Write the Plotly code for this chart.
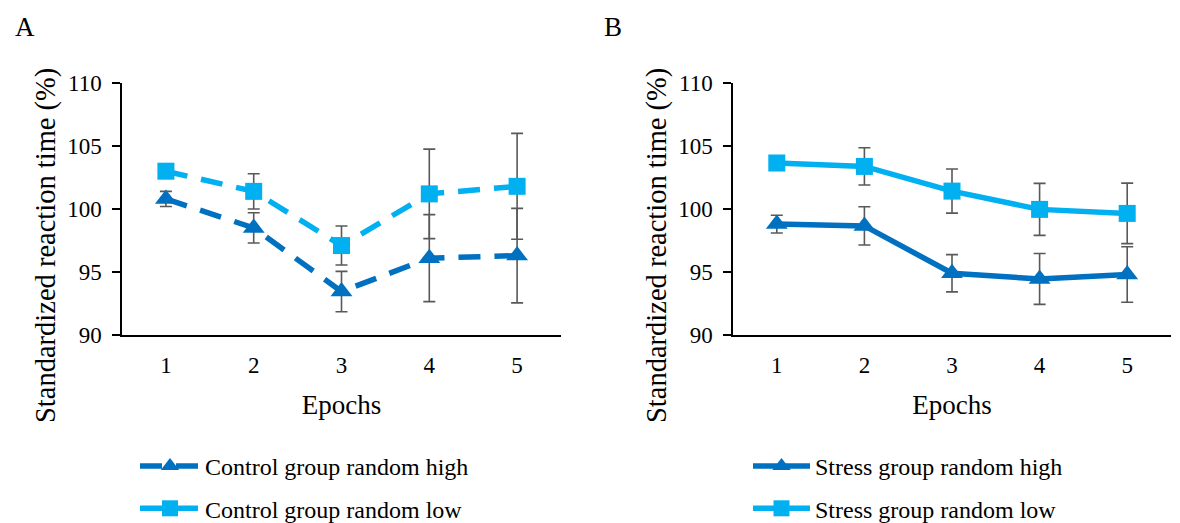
import plotly.graph_objects as go

epochs = [1, 2, 3, 4, 5]
epoch_labels = ["1", "2", "3", "4", "5"]

control_high = [100.8, 98.5, 93.45, 96.1, 96.3]
control_high_err = [0.6, 1.2, 1.6, 3.45, 3.75]
control_low = [103.0, 101.4, 97.1, 101.2, 101.8]
control_low_err = [0.3, 1.4, 1.55, 3.55, 4.2]

stress_high = [98.8, 98.66, 94.9, 94.45, 94.8]
stress_high_err = [0.7, 1.52, 1.48, 2.02, 2.2]
stress_low = [103.65, 103.38, 101.42, 99.97, 99.65]
stress_low_err = [0.3, 1.48, 1.75, 2.06, 2.4]

y_ticks = [90, 95, 100, 105, 110]
y_title = "Standardized reaction time (%)"
x_title = "Epochs"

DARK = "#0070C0"
LIGHT = "#00B0F0"
ERR = "#595959"
FONT = "Liberation Serif"

W, H = 1180, 523


def px(x):
    return x / W


def py(y):
    return 1 - y / H


fig = go.Figure()


def add(x, y, err, name, color, symbol, dash, xa, ya, legend, group):
    fig.add_trace(go.Scatter(
        x=x, y=y, name=name, mode="lines+markers",
        line=dict(color=color, width=5.5, dash=dash),
        marker=dict(symbol=symbol, size=17 if symbol == "square" else 19, color=color,
                    line=dict(width=0)),
        error_y=dict(type="data", array=err, visible=True, color=ERR, thickness=1.6, width=6),
        xaxis=xa, yaxis=ya, legend=legend, legendgroup=group,
    ))


add(epochs, control_high, control_high_err, "Control group random high", DARK, "triangle-up", "22px,14px", "x", "y", "legend", "a1")
add(epochs, control_low, control_low_err, "Control group random low", LIGHT, "square", "22px,14px", "x", "y", "legend", "a2")
add(epochs, stress_high, stress_high_err, "Stress group random high", DARK, "triangle-up", "solid", "x2", "y2", "legend2", "b1")
add(epochs, stress_low, stress_low_err, "Stress group random low", LIGHT, "square", "solid", "x2", "y2", "legend2", "b2")

xdomA = [px(122), px(561)]
xdomB = [px(733), px(1171)]
ydom = [py(335), py(83)]

xcommon = dict(
    range=[0.5, 5.5], tickvals=epochs, ticktext=epoch_labels, showgrid=False, zeroline=False,
    showline=True, linecolor="black", linewidth=1.5, ticks="", automargin=False,
    ticklabelstandoff=9,
    tickfont=dict(family=FONT, size=23, color="black"),
    title=dict(text=x_title, font=dict(family=FONT, size=27, color="black"), standoff=18),
)
ycommon = dict(
    range=[90, 110], tickvals=y_ticks, showgrid=False, zeroline=False,
    showline=True, linecolor="black", linewidth=1.5, ticks="outside", ticklen=8,
    tickcolor="black", tickwidth=1.5, automargin=False, ticklabelstandoff=6,
    tickfont=dict(family=FONT, size=23, color="black"),
)

legcommon = dict(xanchor="left", yanchor="top", font=dict(family=FONT, size=24, color="black"),
                 tracegroupgap=8, bgcolor="rgba(0,0,0,0)")

annotations = []
for label, lx in (("A", 13), ("B", 602)):
    annotations.append(dict(text=label, x=px(lx), y=py(27), xref="paper", yref="paper", xanchor="left",
                            yanchor="middle", showarrow=False,
                            font=dict(family=FONT, size=27, color="black")))
for tx in (46, 657):
    annotations.append(dict(text=y_title, textangle=-90, x=px(tx), y=py(246), xref="paper", yref="paper",
                            xanchor="center", yanchor="middle", showarrow=False,
                            font=dict(family=FONT, size=28.5, color="black")))

fig.update_layout(
    template="none",
    width=W, height=H,
    margin=dict(l=0, r=0, t=0, b=0, autoexpand=False),
    font=dict(family=FONT, color="black"),
    paper_bgcolor="white", plot_bgcolor="white",
    xaxis=dict(domain=xdomA, anchor="y", **xcommon),
    yaxis=dict(domain=ydom, anchor="x", **ycommon),
    xaxis2=dict(domain=xdomB, anchor="y2", **xcommon),
    yaxis2=dict(domain=ydom, anchor="x2", **ycommon),
    legend=dict(x=px(135), y=py(444), itemwidth=60, **legcommon),
    legend2=dict(x=px(748), y=py(444), itemwidth=57, **legcommon),
    annotations=annotations,
)

fig.write_html("out.html", config={"displayModeBar": False},
               post_script="document.body.style.margin='0px';")
